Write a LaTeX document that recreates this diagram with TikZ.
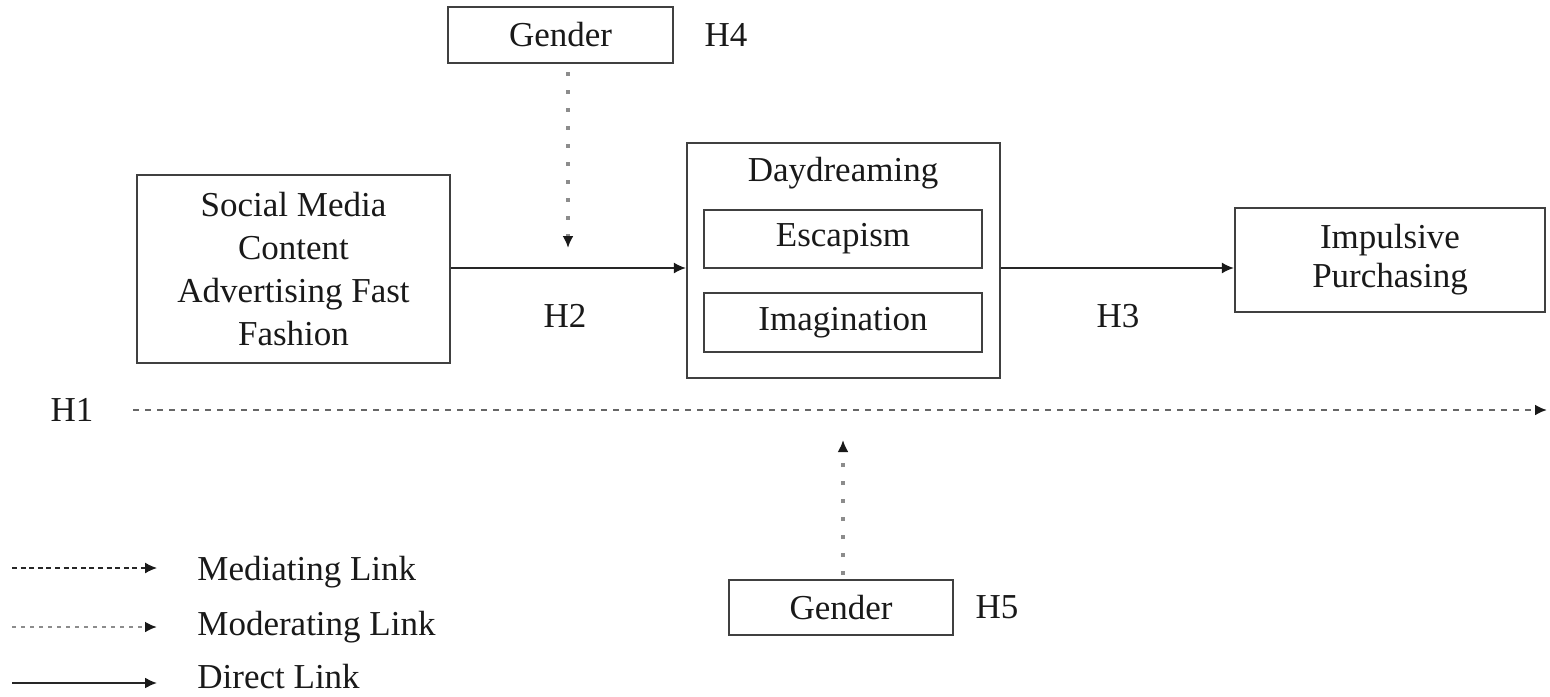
\documentclass[tikz,border=0pt]{standalone}
\usepackage{fontspec}
\setmainfont{Liberation Serif}
\usetikzlibrary{arrows.meta}
\begin{document}
\begin{tikzpicture}[x=0.5pt,y=-0.5pt,
  every node/.style={font=\fontsize{17.5}{21.5}\selectfont, text=black!90},
  box/.style={draw=black!75, line width=1.1pt, rectangle, inner sep=0pt, align=center},
  lbl/.style={inner sep=0pt},
  tip/.style={-{Latex[length=6pt,width=5.5pt,color=black!90]}},
  direct/.style={tip, draw=black!85, line width=0.9pt},
  mediating/.style={tip, draw=black!60, line width=1.2pt, dash pattern=on 3pt off 3pt},
  moderating/.style={tip, draw=black!45, line width=2pt, dash pattern=on 2pt off 7pt},
  legmed/.style={tip, draw=black!85, line width=0.7pt, dash pattern=on 2.5pt off 1.8pt},
  legmod/.style={tip, draw=black!45, line width=1.2pt, dash pattern=on 2pt off 2.5pt},
  legdir/.style={tip, draw=black!85, line width=1pt}
]
\useasboundingbox (0,0) rectangle (1550,696);
% boxes
\node[box, minimum width=156.5pt, minimum height=94pt] (sm) at (293.5,269)
  {Social Media\\Content\\Advertising Fast\\Fashion};
\node[box, minimum width=112.5pt, minimum height=28pt] (g1) at (560.5,35) {Gender};
\node[lbl] (h4) at (726,35) {H4};
\node[box, minimum width=156.5pt, minimum height=117.5pt] (dd) at (843.5,260.5) {};
\node[lbl] (ddl) at (843,173) {Daydreaming};
\node[box, minimum width=139pt, minimum height=29pt] (esc) at (843,239) {Escapism};
\node[box, minimum width=139pt, minimum height=29.5pt] (img) at (843,322.5) {Imagination};
\node[box, minimum width=155pt, minimum height=52pt, font=\fontsize{17.5}{19.5}\selectfont] (ip) at (1390,260)
  {Impulsive\\Purchasing};
\node[box, minimum width=112pt, minimum height=27.5pt] (g2) at (841,607.5) {Gender};
\node[lbl] (h5) at (997,607) {H5};
\node[lbl] (h2) at (565,316) {H2};
\node[lbl] (h3) at (1118,316) {H3};
\node[lbl] (h1) at (72,410) {H1};
% direct links
\draw[direct] (sm.east |- 0,268) -- (dd.west |- 0,268);
\draw[direct] (dd.east |- 0,268) -- (ip.west |- 0,268);
% mediating H1
\coordinate (h1s) at (133,410);
\coordinate (h1e) at (1547,410);
\draw[mediating] (h1s) -- (h1e);
% moderating links
\coordinate (m1s) at (568,72);
\coordinate (m1e) at (568,248);
\draw[moderating] (m1s) -- (m1e);
\coordinate (m2s) at (843,575);
\coordinate (m2e) at (843,440);
\draw[moderating] (m2s) -- (m2e);
% legend
\coordinate (l1s) at (12,568); \coordinate (l1e) at (157,568);
\coordinate (l2s) at (12,627); \coordinate (l2e) at (157,627);
\coordinate (l3s) at (12,683); \coordinate (l3e) at (157,683);
\draw[legmed] (l1s) -- (l1e);
\draw[legmod] (l2s) -- (l2e);
\draw[legdir] (l3s) -- (l3e);
\node[lbl, anchor=west] (t1) at (197,572) {Mediating Link};
\node[lbl, anchor=west] (t2) at (197,627) {Moderating Link};
\node[lbl, anchor=west] (t3) at (197,677) {Direct Link};
\end{tikzpicture}
\end{document}
